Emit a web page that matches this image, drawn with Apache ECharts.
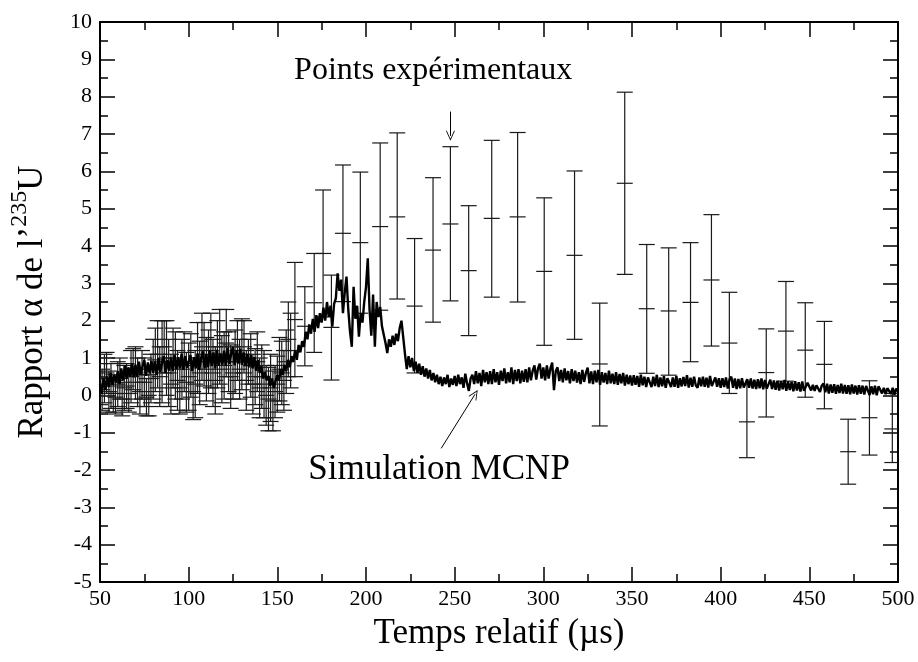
<!DOCTYPE html>
<html>
<head>
<meta charset="utf-8">
<script src="https://cdn.jsdelivr.net/npm/echarts@6/dist/echarts.min.js"></script>
<style>
  html, body { margin: 0; padding: 0; background: #fff; }
  #chart { width: 918px; height: 662px; }
</style>
</head>
<body>
<div id="chart"></div>
<script>
// Simulation MCNP : one value per µs, from 50 to 500 µs
const simStart = 50;
const simY = [
  0.30, 0.05, 0.45, 0.15, 0.50, 0.22, 0.60, 0.28, 0.55, 0.35,
  0.65, 0.30, 0.72, 0.40, 0.80, 0.45, 0.75, 0.50, 0.85, 0.48,
  0.82, 0.50, 0.90, 0.55, 0.78, 0.95, 0.52, 0.88, 0.58, 0.92,
  0.60, 0.90, 0.55, 1.00, 0.62, 0.88, 1.05, 0.60, 0.95, 0.66,
  1.00, 0.65, 1.08, 0.70, 1.02, 0.72, 1.12, 0.68, 1.05, 0.74,
  0.70, 1.08, 0.65, 1.02, 0.72, 1.12, 0.68, 1.00, 1.18, 0.72,
  1.10, 0.75, 1.20, 0.78, 1.15, 0.72, 1.22, 0.80, 1.12, 0.82,
  1.20, 0.80, 1.28, 0.84, 1.12, 1.30, 0.80, 1.20, 0.85, 1.25,
  0.82, 1.15, 0.78, 1.10, 0.75, 1.08, 0.72, 1.02, 0.66, 0.95,
  0.60, 0.78, 0.45, 0.62, 0.40, 0.52, 0.25, 0.45, 0.20, 0.38,
  0.55, 0.40, 0.70, 0.55, 0.82, 0.65, 0.95, 0.75, 1.05, 0.90,
  1.20, 0.95, 1.35, 1.15, 1.45, 1.30, 1.70, 1.50, 1.90, 1.65,
  2.05, 1.70, 2.15, 1.80, 2.20, 1.95, 2.35, 2.00, 2.50, 2.10,
  2.40, 1.84, 2.45, 2.60, 3.27, 2.80, 3.10, 2.20, 2.75, 3.18,
  2.30, 1.70, 1.30, 2.91, 2.05, 2.40, 1.57, 2.20, 1.95, 2.50,
  2.90, 3.67, 2.30, 1.60, 2.70, 1.30, 2.50, 2.10, 2.37, 1.85,
  1.90, 1.40, 1.13, 1.50, 1.30, 1.60, 1.35, 1.65, 1.45, 1.80,
  2.00, 1.55, 1.10, 0.70, 1.05, 0.75, 1.00, 0.65, 0.90, 0.60,
  0.85, 0.55, 0.78, 0.50, 0.72, 0.45, 0.68, 0.40, 0.60, 0.35,
  0.55, 0.30, 0.50, 0.25, 0.48, 0.30, 0.55, 0.22, 0.45, 0.28,
  0.52, 0.25, 0.55, 0.30, 0.48, 0.20, 0.58, 0.32, 0.12, 0.45,
  0.55, 0.30, 0.65, 0.32, 0.60, 0.25, 0.68, 0.35, 0.62, 0.30,
  0.65, 0.30, 0.70, 0.35, 0.62, 0.28, 0.66, 0.38, 0.72, 0.32,
  0.62, 0.35, 0.75, 0.30, 0.68, 0.38, 0.70, 0.32, 0.66, 0.36,
  0.70, 0.35, 0.75, 0.40, 0.66, 0.80, 0.42, 0.72, 0.85, 0.45,
  0.75, 0.40, 0.80, 0.45, 0.72, 0.88, 0.14, 0.65, 0.75, 0.38,
  0.68, 0.35, 0.72, 0.40, 0.65, 0.32, 0.70, 0.38, 0.66, 0.34,
  0.62, 0.30, 0.68, 0.36, 0.60, 0.74, 0.32, 0.64, 0.30, 0.66,
  0.35, 0.68, 0.28, 0.62, 0.34, 0.60, 0.30, 0.66, 0.32, 0.58,
  0.30, 0.62, 0.28, 0.57, 0.32, 0.60, 0.26, 0.55, 0.30, 0.53,
  0.26, 0.54, 0.28, 0.52, 0.23, 0.55, 0.27, 0.50, 0.22, 0.48,
  0.52, 0.22, 0.50, 0.25, 0.55, 0.22, 0.48, 0.24, 0.51, 0.20,
  0.46, 0.50, 0.22, 0.48, 0.23, 0.52, 0.20, 0.46, 0.24, 0.49,
  0.25, 0.54, 0.21, 0.47, 0.23, 0.50, 0.26, 0.20, 0.48, 0.24,
  0.50, 0.23, 0.47, 0.21, 0.52, 0.25, 0.20, 0.48, 0.23, 0.46,
  0.20, 0.46, 0.22, 0.48, 0.18, 0.43, 0.50, 0.20, 0.45, 0.17,
  0.44, 0.19, 0.46, 0.21, 0.16, 0.43, 0.20, 0.45, 0.18, 0.42,
  0.17, 0.43, 0.19, 0.45, 0.16, 0.41, 0.18, 0.14, 0.42, 0.17,
  0.40, 0.15, 0.39, 0.13, 0.38, 0.16, 0.41, 0.12, 0.37, 0.14,
  0.36, 0.11, 0.38, 0.13, 0.35, 0.10, 0.37, 0.12, 0.08, 0.34,
  0.30, 0.13, 0.28, 0.12, 0.27, 0.31, 0.09, 0.26, 0.32, 0.08,
  0.31, 0.05, 0.29, 0.07, 0.30, 0.04, 0.28, 0.06, 0.31, 0.05,
  0.28, 0.04, 0.27, 0.03, 0.29, 0.05, 0.26, 0.02, 0.27, 0.04,
  0.26, 0.02, 0.25, 0.28, 0.01, 0.24, 0.03, 0.26, 0.00, 0.24,
  0.22, 0.05, 0.20, 0.03, 0.19, 0.22, 0.04, 0.20, 0.02, 0.18,
  0.11
];

// Points expérimentaux : temps, valeur, borne basse, borne haute
const expX = [
  50, 52.5, 55, 57.5, 60, 62.5, 65, 67.5, 70, 72.5,
  75, 77.5, 80, 82.5, 85, 87.5, 90, 92.5, 95, 97.5,
  100, 102.5, 105, 107.5, 110, 112.5, 115, 117.5, 120, 122.5,
  125, 127.5, 130, 132.5, 135, 137.5, 140, 142.5, 145, 147.5,
  150, 152.5, 155, 157.5,
  51.2, 53.7, 56.2, 58.7, 61.2, 63.7, 66.2, 68.7, 71.2, 73.7,
  76.2, 78.7, 81.2, 83.7, 86.2, 88.7, 91.2, 93.7, 96.2, 98.7,
  101.2, 103.7, 106.2, 108.7, 111.2, 113.7, 116.2, 118.7, 121.2, 123.7,
  126.2, 128.7, 131.2, 133.7, 136.2, 138.7, 141.2, 143.7, 146.2, 148.7,
  151.2, 153.7, 156.2,
  159.9, 165.5, 170.8, 175.8, 180.5, 187.0, 196.8, 208.0, 217.6, 227.4,
  237.8, 247.6, 257.9, 270.9, 285.5, 300.5, 317.6, 331.8, 345.9, 358.3,
  370.7, 383.0, 394.8, 404.9, 414.8, 425.7, 436.8, 447.7, 458.5, 471.9,
  483.9, 496.8
];
const expY = [
  0.30, 0.45, 0.10, 0.05, 0.30, -0.10, 0.25, 0.50, 0.60, 0.10,
  0.35, 0.00, 0.70, 1.10, 0.90, 1.00, 0.30, 0.80, 0.20, 0.90,
  0.50, 0.10, 1.00, 1.30, 0.70, 1.20, 0.40, 1.30, 0.80, 0.90,
  0.60, 1.20, 1.10, 0.40, 0.80, 0.50, 0.20, 0.30, -0.10, -0.15,
  0.30, 0.60, 0.90, 1.20,
  0.15, 0.60, 0.25, -0.05, 0.45, 0.20, 0.05, 0.70, 0.35, 0.55,
  -0.05, 0.45, 0.95, 0.50, 1.30, 0.60, 1.00, 0.40, 0.70, 0.35,
  0.80, 0.30, 0.60, 1.10, 0.90, 0.60, 1.10, 0.70, 1.40, 0.50,
  0.90, 0.70, 1.30, 0.90, 0.30, 0.90, 0.50, 0.00, 0.20, 0.10,
  0.70, 0.40, 1.50,
  2.03, 1.85, 2.48, 3.80, 1.82, 4.34, 4.09, 4.52, 4.78, 2.39,
  3.89, 4.59, 3.34, 4.74, 4.78, 3.32, 3.75, 0.84, 5.68, 2.32,
  2.26, 2.49, 3.09, 1.40, -0.71, 0.61, 1.72, 1.21, 0.83, -1.51,
  -0.60, -0.90
];
const expLow = [
  -0.25, -0.20, -0.45, -0.45, -0.30, -0.55, -0.35, -0.20, -0.10, -0.50,
  -0.30, -0.55, -0.10, 0.20, -0.20, 0.00, -0.50, -0.10, -0.50, 0.10,
  -0.40, -0.65, 0.05, 0.40, -0.15, 0.20, -0.50, 0.30, -0.10, 0.10,
  -0.10, 0.40, 0.15, -0.40, -0.05, -0.25, -0.60, -0.60, -0.95, -0.95,
  -0.45, -0.25, 0.05, 0.20,
  -0.40, 0.05, -0.35, -0.50, -0.10, -0.40, -0.45, 0.15, -0.30, -0.10,
  -0.55, -0.20, 0.10, -0.30, 0.60, -0.30, 0.20, -0.40, -0.10, -0.45,
  -0.05, -0.60, -0.25, 0.25, 0.05, -0.30, 0.20, -0.20, 0.50, -0.35,
  0.05, -0.10, 0.60, 0.30, -0.50, 0.10, -0.35, -0.80, -0.70, -0.60,
  -0.15, -0.40, 0.50,
  0.50, 0.79, 1.15, 2.10, 0.41, 2.51, 2.20, 2.28, 2.58, 0.60,
  1.96, 2.53, 1.60, 2.63, 2.50, 1.34, 1.50, -0.82, 3.24, 0.59,
  0.54, 0.90, 1.32, 0.05, -1.67, -0.58, 0.38, -0.05, -0.36, -2.38,
  -1.60, -1.80
];
const expHigh = [
  0.85, 1.10, 0.65, 0.55, 0.90, 0.35, 0.85, 1.20, 1.30, 0.70,
  1.00, 0.55, 1.50, 2.00, 2.00, 2.00, 1.10, 1.70, 0.90, 1.70,
  1.40, 0.85, 1.95, 2.20, 1.55, 2.20, 1.30, 2.30, 1.70, 1.70,
  1.30, 2.00, 2.05, 1.20, 1.65, 1.25, 1.00, 1.20, 0.75, 0.65,
  1.05, 1.45, 1.75, 2.20,
  0.70, 1.15, 0.85, 0.40, 1.00, 0.80, 0.55, 1.25, 1.00, 1.20,
  0.45, 1.10, 1.80, 1.30, 2.00, 1.50, 1.80, 1.20, 1.50, 1.15,
  1.65, 1.20, 1.45, 1.95, 1.75, 1.50, 2.00, 1.60, 2.30, 1.35,
  1.75, 1.50, 2.00, 1.50, 1.10, 1.70, 1.35, 0.80, 1.10, 0.80,
  1.55, 1.20, 2.50,
  3.56, 2.91, 3.80, 5.50, 3.22, 6.17, 5.98, 6.76, 7.03, 4.20,
  5.83, 6.66, 5.08, 6.83, 7.04, 5.29, 6.01, 2.47, 8.12, 4.04,
  3.95, 4.09, 4.84, 2.76, 0.30, 1.78, 3.05, 2.48, 1.98, -0.64,
  0.39, 0.05
];

const xMin = 50, xMax = 500, xStep = 50;
const yMin = -5, yMax = 10, yStep = 1;

const simData = simY.map((v, i) => [simStart + i, v]);
const expData = expX.map((x, i) => [x, expY[i], expLow[i], expHigh[i]]);

const serif = 'Liberation Serif, DejaVu Serif, serif';
const axisColor = '#000';
// pointe de flèche ouverte (chevron), pointe vers le haut
const openArrow = 'path://M5,0 L10,10 L9,10 L5,2 L1,10 L0,10 Z';

// barre d'erreur : trait vertical + deux chapeaux + trait central
function renderErrorBar(params, api) {
  const x = api.value(0);
  const c = api.coord([x, api.value(1)]);
  const lo = api.coord([x, api.value(2)]);
  const hi = api.coord([x, api.value(3)]);
  const w = 8;
  const style = { stroke: '#1a1a1a', lineWidth: 1.2, fill: null };
  return {
    type: 'group',
    children: [
      { type: 'line', shape: { x1: lo[0], y1: lo[1], x2: hi[0], y2: hi[1] }, style },
      { type: 'line', shape: { x1: hi[0] - w, y1: hi[1], x2: hi[0] + w, y2: hi[1] }, style },
      { type: 'line', shape: { x1: lo[0] - w, y1: lo[1], x2: lo[0] + w, y2: lo[1] }, style },
      { type: 'line', shape: { x1: c[0] - w, y1: c[1], x2: c[0] + w, y2: c[1] }, style }
    ]
  };
}

function baseAxis(extra) {
  return Object.assign({
    type: 'value',
    axisLine: { show: true, onZero: false, lineStyle: { color: axisColor, width: 2 } },
    axisTick: { show: true, inside: true, length: 15, lineStyle: { color: axisColor, width: 1.5 } },
    minorTick: { show: true, splitNumber: 2, length: 8, lineStyle: { color: axisColor, width: 1.5 } },
    splitLine: { show: false },
    minorSplitLine: { show: false }
  }, extra);
}

const chart = echarts.init(document.getElementById('chart'), null, { renderer: 'canvas' });

const option = {
  animation: false,
  backgroundColor: '#fff',
  grid: { left: 98, right: 20, top: 22, bottom: 80, containLabel: false },
  xAxis: [
    baseAxis({
      min: xMin, max: xMax, interval: xStep, position: 'bottom',
      axisLabel: { color: '#000', fontFamily: serif, fontSize: 22, margin: 6 },
      name: 'Temps relatif (µs)',
      nameLocation: 'middle',
      nameGap: 34,
      nameTextStyle: { color: '#000', fontFamily: serif, fontSize: 35 }
    }),
    baseAxis({
      min: xMin, max: xMax, interval: xStep, position: 'top',
      axisLabel: { show: false }
    })
  ],
  yAxis: [
    baseAxis({
      min: yMin, max: yMax, interval: yStep, position: 'left',
      axisLabel: { color: '#000', fontFamily: serif, fontSize: 22, margin: 8 },
      name: '{t|Rapport α de l’}{s|235}{t|U}',
      nameLocation: 'middle',
      nameGap: 50,
      nameRotate: 90,
      nameTextStyle: {
        color: '#000', fontFamily: serif, fontSize: 35,
        rich: {
          t: { fontFamily: serif, fontSize: 35, color: '#000', lineHeight: 42, verticalAlign: 'bottom' },
          s: { fontFamily: serif, fontSize: 24, color: '#000', lineHeight: 42, verticalAlign: 'top' }
        }
      }
    }),
    baseAxis({
      min: yMin, max: yMax, interval: yStep, position: 'right',
      axisLabel: { show: false }
    })
  ],
  series: [
    {
      name: 'Points expérimentaux',
      type: 'custom',
      renderItem: renderErrorBar,
      encode: { x: 0, y: [1, 2, 3] },
      data: expData,
      clip: true,
      z: 2
    },
    {
      name: 'Simulation MCNP',
      type: 'line',
      data: simData,
      showSymbol: false,
      symbol: 'none',
      lineStyle: { color: '#000', width: 2.4 },
      clip: true,
      z: 3,
      markPoint: {
        silent: true,
        symbol: 'circle',
        symbolSize: 0,
        label: {
          show: true, position: 'inside', color: '#000',
          fontFamily: serif, fontSize: 32
        },
        data: [
          { coord: [237.9, 8.71], value: 'Points expérimentaux', label: { formatter: 'Points expérimentaux' } },
          { coord: [241.2, -2.0], value: 'Simulation MCNP', label: { formatter: 'Simulation MCNP', fontSize: 35 } }
        ]
      },
      markLine: {
        silent: true,
        symbol: ['none', openArrow],
        symbolSize: [9, 10],
        label: { show: false },
        itemStyle: { color: '#000' },
        lineStyle: { color: '#000', width: 1, type: 'solid' },
        data: [
          [{ coord: [247.6, 7.6] }, { coord: [247.6, 6.95] }],
          [{ coord: [242.4, -1.42] }, { coord: [261.5, 0.03] }]
        ]
      }
    }
  ]
};

chart.setOption(option);
</script>
</body>
</html>
